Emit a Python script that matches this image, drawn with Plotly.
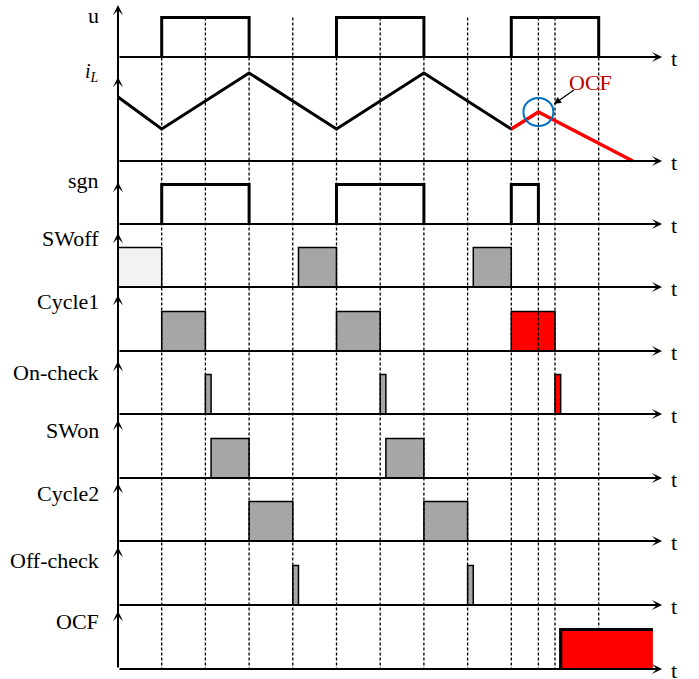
import plotly.graph_objects as go

# ---------------- data ----------------
lane_names = ["u", "iL", "sgn", "SWoff", "Cycle1", "On-check", "SWon", "Cycle2", "Off-check", "OCF"]
lane_labels = ["u", "<i>i</i><sub><i>L</i></sub>", "sgn", "SWoff", "Cycle1",
               "On-check", "SWon", "Cycle2", "Off-check", "OCF"]
event_times = [1, 2, 3, 4, 5, 6, 7, 8, 9, 9.62, 10, 11]

u_rise = [1, 5, 9]
u_fall = [3, 7, 11]
sgn_rise = [1, 5, 9]
sgn_fall = [3, 7, 9.62]

iL_t = [0, 1, 3, 5, 7, 9]
iL_v = [0.64, 0.32, 0.88, 0.32, 0.88, 0.32]
iL_fault_t = [9, 9.62, 11.78]
iL_fault_v = [0.32, 0.49, 0.0]

swoff_start = [0, 4.13, 8.13]
swoff_end = [1, 5, 9]
swoff_kind = ["idle", "normal", "normal"]
cycle1_start = [1, 5, 9]
cycle1_end = [2, 6, 10]
cycle1_kind = ["normal", "normal", "fault"]
oncheck_start = [2, 6, 10]
oncheck_end = [2.13, 6.13, 10.13]
oncheck_kind = ["normal", "normal", "fault"]
swon_start = [2.13, 6.13]
swon_end = [3, 7]
swon_kind = ["normal", "normal"]
cycle2_start = [3, 7]
cycle2_end = [4, 8]
cycle2_kind = ["normal", "normal"]
offcheck_start = [4, 8]
offcheck_end = [4.13, 8.13]
offcheck_kind = ["normal", "normal"]
ocf_start = [10.13]
ocf_end = [12.24]

t_end = 12.45
ocf_text = "OCF"

# ---------------- layout constants ----------------
W, H = 699, 679
X0 = 118.0        # pixel of t = 0
PX = 43.7         # pixels per time unit
base = [57, 161, 224, 287, 351, 414, 478, 541, 605, 669]
tip = [5, 77, 182, 233, 295, 361, 420, 483, 547, 611]
label_y = [15, 72, 180, 238, 301, 372, 430, 493, 560, 621]
PULSE_H = 39.5
IL_SCALE = 100
FONT = "Liberation Serif"
fills = {"idle": "#F2F2F2", "normal": "#A6A6A6", "fault": "#FF0000"}


def dt(px):
    return px / PX


fig = go.Figure()
shapes = []
ann = []

# dashed guide lines
dx_, dy_ = [], []
for t in event_times:
    y_bottom = base[9] - PULSE_H if t >= ocf_end[0] - 1.5 and t > ocf_start[0] else base[9]
    dx_ += [t, t, None]
    dy_ += [base[0] - PULSE_H, y_bottom, None]
fig.add_trace(go.Scatter(x=dx_, y=dy_, mode="lines",
                         line=dict(color="black", width=1.3, dash="3px,2px"),
                         hoverinfo="skip", showlegend=False))

# boxes
def add_boxes(lane, starts, ends, kinds):
    for s, e, k in zip(starts, ends, kinds):
        shapes.append(dict(type="rect", xref="x", yref="y", x0=s, x1=e,
                           y0=base[lane], y1=base[lane] - PULSE_H,
                           fillcolor=fills[k], line=dict(color="black", width=1.5),
                           layer="below"))

add_boxes(3, swoff_start, swoff_end, swoff_kind)
add_boxes(4, cycle1_start, cycle1_end, cycle1_kind)
add_boxes(5, oncheck_start, oncheck_end, oncheck_kind)
add_boxes(6, swon_start, swon_end, swon_kind)
add_boxes(7, cycle2_start, cycle2_end, cycle2_kind)
add_boxes(8, offcheck_start, offcheck_end, offcheck_kind)

# OCF flag (filled, thick leading/top edge)
for s, e in zip(ocf_start, ocf_end):
    shapes.append(dict(type="rect", xref="x", yref="y", x0=s, x1=e,
                       y0=base[9], y1=base[9] - PULSE_H,
                       fillcolor="#FF0000", line=dict(width=0), layer="below"))
    fig.add_trace(go.Scatter(x=[s, s, e], y=[base[9], base[9] - PULSE_H, base[9] - PULSE_H],
                             mode="lines", line=dict(color="black", width=3.2),
                             hoverinfo="skip", showlegend=False))

# pulse waveforms
def pulses(lane, rises, falls):
    xs, ys = [], []
    for r, f in zip(rises, falls):
        xs += [r, r, f, f, None]
        ys += [base[lane], base[lane] - PULSE_H, base[lane] - PULSE_H, base[lane], None]
    fig.add_trace(go.Scatter(x=xs, y=ys, mode="lines",
                             line=dict(color="black", width=3),
                             hoverinfo="skip", showlegend=False))

pulses(0, u_rise, u_fall)
pulses(2, sgn_rise, sgn_fall)

# inductor current
fig.add_trace(go.Scatter(x=iL_t, y=[base[1] - v * IL_SCALE for v in iL_v], mode="lines",
                         line=dict(color="black", width=3), hoverinfo="skip", showlegend=False))
fig.add_trace(go.Scatter(x=iL_fault_t, y=[base[1] - v * IL_SCALE for v in iL_fault_v],
                         mode="lines", line=dict(color="#FF0000", width=3.5),
                         hoverinfo="skip", showlegend=False))

# OCF circle + callout
pk_t = iL_fault_t[1]
pk_y = base[1] - iL_fault_v[1] * IL_SCALE
shapes.append(dict(type="circle", xref="x", yref="y",
                   x0=pk_t - dt(15), x1=pk_t + dt(15), y0=pk_y - 14, y1=pk_y + 14,
                   line=dict(color="#0070C0", width=2), layer="above"))
ann.append(dict(x=pk_t + dt(15.5), y=pk_y - 8, ax=pk_t + dt(37), ay=pk_y - 23,
                xref="x", yref="y", axref="x", ayref="y", text="", showarrow=True,
                arrowhead=2, arrowwidth=1.3, arrowsize=1.1, arrowcolor="black"))
ann.append(dict(x=pk_t + dt(52), y=pk_y - 30, xref="x", yref="y", text=ocf_text,
                showarrow=False, xanchor="center", yanchor="middle",
                font=dict(family=FONT, size=22, color="#C00000")))

# axes: vertical line with arrow heads
ann.append(dict(x=0, y=tip[0], ax=0, ay=base[9], xref="x", yref="y", axref="x", ayref="y",
                text="", showarrow=True, arrowhead=3, arrowwidth=2, arrowsize=0.85,
                arrowcolor="black"))
for i in range(1, 10):
    ann.append(dict(x=0, y=tip[i], ax=0, ay=tip[i] + 16, xref="x", yref="y",
                    axref="x", ayref="y", text="", showarrow=True, arrowhead=3,
                    arrowwidth=2, arrowsize=0.85, arrowcolor="black"))

# time axes with arrows and "t"
for i in range(10):
    ann.append(dict(x=t_end, y=base[i], ax=0, ay=base[i], xref="x", yref="y",
                    axref="x", ayref="y", text="", showarrow=True, arrowhead=3,
                    arrowwidth=2, arrowsize=0.85, arrowcolor="black"))
    ann.append(dict(x=t_end + dt(7), y=base[i] + 1, xref="x", yref="y", text="t",
                    showarrow=False, xanchor="left", yanchor="middle",
                    font=dict(family=FONT, size=22, color="black")))

# lane labels
for i in range(10):
    size = 20 if lane_names[i] == "iL" else 22
    ann.append(dict(x=-dt(17), y=label_y[i], xref="x", yref="y", text=lane_labels[i],
                    showarrow=False, xanchor="right", yanchor="middle",
                    font=dict(family=FONT, size=size, color="black")))

fig.update_layout(
    width=W, height=H, margin=dict(l=0, r=0, t=0, b=0),
    paper_bgcolor="white", plot_bgcolor="white",
    xaxis=dict(range=[-X0 / PX, (W - X0) / PX], visible=False, fixedrange=True),
    yaxis=dict(range=[H, 0], visible=False, fixedrange=True),
    shapes=shapes, annotations=ann, showlegend=False,
)
fig.write_html("out.html")
